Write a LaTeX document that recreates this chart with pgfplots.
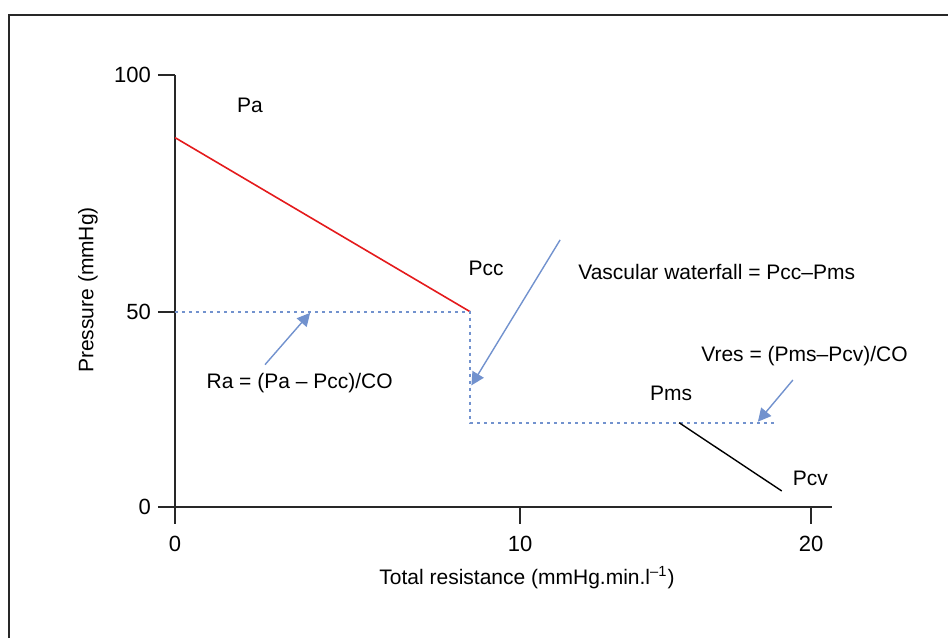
\documentclass[border=0pt]{standalone}
\usepackage{fontspec}
\setmainfont{Liberation Sans}
\usepackage{pgfplots}
\pgfplotsset{compat=1.18}
\usetikzlibrary{arrows.meta}

\definecolor{dotblue}{RGB}{114,146,206}
\definecolor{pred}{RGB}{228,26,28}
\definecolor{axgray}{RGB}{40,40,40}

\begin{document}
\begin{tikzpicture}[font=\fontsize{10.5}{12.5}\selectfont]
\useasboundingbox (0,0) rectangle (474pt,319pt);
% frame (only top and left edges show in the reference)
\draw[line width=1pt, axgray] (4.5pt,0pt) -- (4.5pt,311.5pt) -- (474pt,311.5pt);

\begin{axis}[
  scale only axis, width=328.35pt, height=215.85pt,
  at={(87.5pt,65.65pt)}, anchor=south west,
  xmin=0, xmax=20.65, ymin=0, ymax=100,
  axis lines*=left,
  axis line style={line width=1pt, axgray},
  tick style={line width=1pt, axgray},
  tick align=outside, major tick length=8.5pt,
  xtick={0,10.85,20}, xticklabels={0,10,20},
  ytick={0,45.17,100}, yticklabels={0,50,100},
  /pgf/number format/assume math mode=true,
  tick label style={font=\fontsize{11}{13}\selectfont},
  xticklabel style={yshift=-2.5pt},
  xlabel={Total resistance (mmHg.min.l\textsuperscript{–1})},
  ylabel={Pressure (mmHg)},
  xlabel style={at={(axis description cs:0.536,-0.165)}, anchor=center},
  ylabel style={at={(axis description cs:-0.1325,0.502)}, anchor=center, rotate=0},
  clip=false,
]
% arterial pressure drop
\addplot[pred, line width=0.8pt] coordinates {(0,85.5) (9.28,45.17)};
% critical closing / mean systemic levels
\addplot[dotblue, line width=0.9pt, dash pattern=on 1.5pt off 2pt]
  coordinates {(0,45.17) (9.28,45.17) (9.28,19.46) (18.87,19.46)};
% venous pressure drop
\addplot[black, line width=0.7pt] coordinates {(15.85,19.46) (19.08,3.64)};
% annotation arrows
\addplot[dotblue, line width=0.7pt, -{Triangle[length=6.5pt,width=6.5pt]}]
  coordinates {(2.83,32.9) (4.25,44.9)};
\addplot[dotblue, line width=0.7pt, -{Triangle[length=6.5pt,width=6.5pt]}]
  coordinates {(12.11,61.8) (9.32,28.1)};
\addplot[dotblue, line width=0.7pt, -{Triangle[length=6.5pt,width=6.5pt]}]
  coordinates {(19.43,29.35) (18.33,19.69)};

\node at (axis cs:2.36,92.9) {Pa};
\node at (axis cs:9.78,55.3) {Pcc};
\node[anchor=west, inner sep=0pt] at (axis cs:12.67,54.3) {Vascular waterfall = Pcc–Pms};
\node at (axis cs:3.92,28.65) {Ra = (Pa – Pcc)/CO};
\node[anchor=east, inner sep=0pt] at (axis cs:23.05,34.9) {Vres = (Pms–Pcv)/CO};
\node at (axis cs:15.6,26.3) {Pms};
\node at (axis cs:19.98,6.63) {Pcv};
\end{axis}
\end{tikzpicture}
\end{document}
